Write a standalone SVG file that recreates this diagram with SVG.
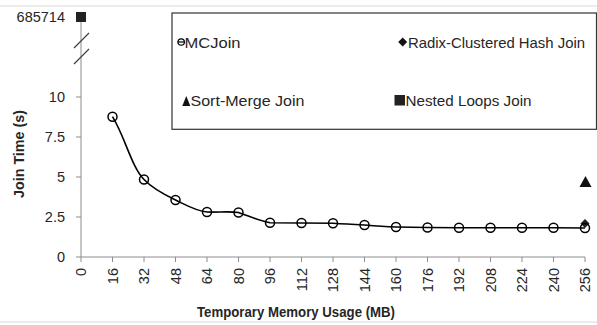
<svg xmlns="http://www.w3.org/2000/svg" width="597" height="325" viewBox="0 0 597 325">
<style>
text{font-family:"Liberation Sans",Arial,sans-serif;fill:#262626}
.tl{font-size:15px}
.yl{font-size:14.5px;text-anchor:end}
.xl{font-size:14.5px;text-anchor:end}
.tt{font-size:14.5px;font-weight:bold;text-anchor:middle}
.ax{stroke:#8c8c8c;stroke-width:1;fill:none}
.mk{fill:none;stroke:#000;stroke-width:1.5}
</style>
<defs>
<circle id="c" r="4.5" class="mk"/>
</defs>
<rect width="597" height="325" fill="#fff"/>
<line x1="0" y1="6" x2="597" y2="6" stroke="#d9d9d9"/>
<line x1="0" y1="322" x2="597" y2="322" stroke="#d9d9d9"/>
<g id="axes">
<line class="ax" x1="81" y1="17" x2="81" y2="257"/>
<line class="ax" x1="81" y1="257" x2="585" y2="257"/>
<path class="ax" d="M76 17H81M76 97H81M76 137H81M76 177H81M76 217H81M76 257H81"/>
<path class="ax" d="M81 257V262M112.5 257V262M144 257V262M175.5 257V262M207 257V262M238.5 257V262M270 257V262M301.5 257V262M333 257V262M364.5 257V262M396 257V262M427.5 257V262M459 257V262M490.5 257V262M522 257V262M553.5 257V262M585 257V262"/>
<line x1="74" y1="48" x2="89" y2="33" stroke="#404040" stroke-width="1.2"/>
<line x1="74" y1="64" x2="89" y2="49" stroke="#404040" stroke-width="1.2"/>
</g>
<g id="ylabels">
<text class="yl" x="65" y="22">685714</text>
<text class="yl" x="65" y="102">10</text>
<text class="yl" x="65" y="142">7.5</text>
<text class="yl" x="65" y="182">5</text>
<text class="yl" x="65" y="222">2.5</text>
<text class="yl" x="65" y="262">0</text>
</g>
<g id="xlabels">
<text class="xl" transform="translate(86,268) rotate(-90)">0</text>
<text class="xl" transform="translate(117.5,268) rotate(-90)">16</text>
<text class="xl" transform="translate(149,268) rotate(-90)">32</text>
<text class="xl" transform="translate(180.5,268) rotate(-90)">48</text>
<text class="xl" transform="translate(212,268) rotate(-90)">64</text>
<text class="xl" transform="translate(243.5,268) rotate(-90)">80</text>
<text class="xl" transform="translate(275,268) rotate(-90)">96</text>
<text class="xl" transform="translate(306.5,268) rotate(-90)">112</text>
<text class="xl" transform="translate(338,268) rotate(-90)">128</text>
<text class="xl" transform="translate(369.5,268) rotate(-90)">144</text>
<text class="xl" transform="translate(401,268) rotate(-90)">160</text>
<text class="xl" transform="translate(432.5,268) rotate(-90)">176</text>
<text class="xl" transform="translate(464,268) rotate(-90)">192</text>
<text class="xl" transform="translate(495.5,268) rotate(-90)">208</text>
<text class="xl" transform="translate(527,268) rotate(-90)">224</text>
<text class="xl" transform="translate(558.5,268) rotate(-90)">240</text>
<text class="xl" transform="translate(590,268) rotate(-90)">256</text>
</g>
<text class="tt" transform="translate(23.5,154) rotate(-90)" textLength="88" lengthAdjust="spacingAndGlyphs">Join Time (s)</text>
<text class="tt" x="296" y="317" textLength="198" lengthAdjust="spacingAndGlyphs">Temporary Memory Usage (MB)</text>
<g id="connectors">
<path d="M112.5 116.7 C125 137 132 168 144 179.5 C153 189 165 195 175.5 200 C186 205 196 211 207 212 C218 212.5 229 211 238.5 212.5 C249 216 259 221 270 222.7 L301.5 223 L333 223.3 C344 224 354 224.5 364.5 225 C375 226 386 226.8 396 227 L427.5 227.5 L459 227.7 L490.5 227.7 L522 227.8 L553.5 227.8 L585 228" fill="none" stroke="#000" stroke-width="1.6"/>
</g>
<g id="mcjoin">
<use href="#c" x="112.5" y="116.7"/>
<use href="#c" x="144" y="179.5"/>
<use href="#c" x="175.5" y="200"/>
<use href="#c" x="207" y="212"/>
<use href="#c" x="238.5" y="212.5"/>
<use href="#c" x="270" y="222.7"/>
<use href="#c" x="301.5" y="223"/>
<use href="#c" x="333" y="223.3"/>
<use href="#c" x="364.5" y="225"/>
<use href="#c" x="396" y="227"/>
<use href="#c" x="427.5" y="227.5"/>
<use href="#c" x="459" y="227.7"/>
<use href="#c" x="490.5" y="227.7"/>
<use href="#c" x="522" y="227.8"/>
<use href="#c" x="553.5" y="227.8"/>
</g>
<g id="radix"><path d="M585 219L589.5 223.5L585 228L580.5 223.5Z" fill="#222"/></g>
<g id="mcjoin-last"><use href="#c" x="585" y="228"/></g>
<g id="sortmerge"><path d="M579.5 187L585.5 176L591.5 187Z" fill="#111"/></g>
<g id="nested"><rect x="76" y="12" width="10" height="10" fill="#222"/></g>
<g id="legend">
<rect x="172" y="13" width="424.5" height="116.3" fill="#fff" stroke="#333" stroke-width="1.2"/>
<circle cx="181.2" cy="42" r="3.2" fill="none" stroke="#000" stroke-width="1.2"/>
<line x1="177.5" y1="42" x2="185" y2="42" stroke="#000" stroke-width="1.2"/>
<text class="tl" x="184.5" y="47.5" textLength="56" lengthAdjust="spacingAndGlyphs">MCJoin</text>
<path d="M402.7 37.5L407.2 42L402.7 46.5L398.2 42Z" fill="#111"/>
<text class="tl" x="408" y="47.5" textLength="177" lengthAdjust="spacingAndGlyphs">Radix-Clustered Hash Join</text>
<path d="M182.3 106L186.3 96L190.3 106Z" fill="#111"/>
<text class="tl" x="190.5" y="105.8" textLength="114" lengthAdjust="spacingAndGlyphs">Sort-Merge Join</text>
<rect x="394.5" y="95" width="10.5" height="10.5" fill="#222"/>
<text class="tl" x="405.5" y="105.8" textLength="126" lengthAdjust="spacingAndGlyphs">Nested Loops Join</text>
</g>
</svg>
